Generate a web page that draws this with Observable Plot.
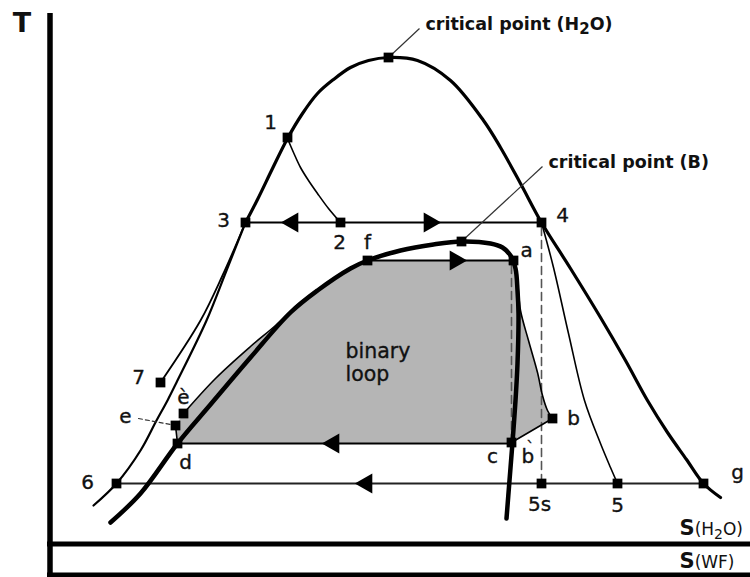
<!DOCTYPE html>
<html>
<head>
<meta charset="utf-8">
<script src="https://cdn.jsdelivr.net/npm/d3@7"></script>
<script src="https://cdn.jsdelivr.net/npm/@observablehq/plot@0.6"></script>
<style>
  html, body { margin: 0; padding: 0; background: #fff; }
  svg { display: block; }
</style>
</head>
<body>
<script>
// Temperature–entropy schematic of a binary geothermal cycle.
// All coordinates are in diagram units: s (entropy) 0–750, T (temperature) 0–577.

// Water saturation dome: from point 3 over the critical point down the vapour side to g
const waterDome = [[245,355],[257,378],[272,409],[287,439],[302,464],[317,484],[333,498],[350,510],[368,517],[388,520],[417,517],[450,497],[483,457],[500,430],[520,394],[541,355],[570,309],[600,260],[625,217],[647,177],[667,145],[686,118],[703,94],[720,80]];
// Saturated-liquid branch of water below point 3 (through point 6)
const waterLiquid = [[245,355],[226,307],[206,257],[176,195],[167,177],[156,157],[140,127],[116,94],[93,72]];
// Working-fluid (B) saturation dome
const wfDome = [[110,55],[140,84],[177,134],[210,173],[250,220],[290,265],[317,287],[350,309],[367,317],[400,327],[433,333],[461,336],[490,334],[502,330],[510,322],[515,309],[517,287],[518,264],[517,214],[515,177],[512,135],[509,97],[506,59]];

// Process lines
const line37 = [[245,355],[222,302],[200,257],[160,195]];
const flash12 = [[287,439],[293,425],[300,410],[308,397],[317,384],[328,369],[340,355]];
const expansion45 = [[541,355],[553,310],[568,244],[584,177],[600,134],[610,110],[617,94]];
const turbineAB = [[513,317],[517,295],[520,267],[528,237],[537,205],[542,182],[547,167],[552,159]];
const lineBC = [[552,159],[511,135]];
const preheatEF = [[183,164],[215,199],[250,231],[275,252],[295,271],[320,290]];
const lineED = [[175,152],[177,134]];
const evaporation34 = [[245,355],[541,355]];
const vaporizeFA = [[367,317],[513,317]];
const condenseCD = [[511,134],[177,134]];
const condense6G = [[703,94],[116,94]];

// Ideal (isentropic) expansions
const isentropicAB = [[511,312],[511,137]];
const isentropic45s = [[541,350],[541,94]];

// Flow-direction arrows
const arrowsLeft = [[292,355],[333,134],[366,94]];
const arrowsRight = [[429,355],[455,317]];

// State points
const states = [
  {id: "1", s: 287, T: 440}, {id: "2", s: 340, T: 355}, {id: "3", s: 245, T: 355},
  {id: "4", s: 541, T: 355}, {id: "f", s: 367, T: 317}, {id: "a", s: 513, T: 317},
  {id: "b", s: 552, T: 159}, {id: "c", s: 511, T: 135}, {id: "d", s: 177, T: 134},
  {id: "e", s: 175, T: 152}, {id: "è", s: 183, T: 164}, {id: "7", s: 160, T: 195},
  {id: "6", s: 116, T: 94}, {id: "5s", s: 541, T: 94}, {id: "5", s: 617, T: 94},
  {id: "g", s: 703, T: 94}
];
// Ideal turbine exit of the binary loop (no marker), written b with a grave accent
const bPrime = {id: "b`", s: 511, T: 137};

const criticalPoints = [
  {name: "critical point (H2O)", s: 388, T: 520, labelS: 425, labelT: 553},
  {name: "critical point (B)", s: 461, T: 336, labelS: 548, labelT: 415}
];

const axisNames = [
  {text: "S(H2O)", s: 679, T: 48},
  {text: "S(WF)", s: 679, T: 15}
];

const regionLabel = {text: "binary\nloop", s: 345, T: 215};

// ---- rendering ----

// Shaded binary-loop area: d → e → è → preheat line → WF dome to f → a → turbine line to b → c
const iF = wfDome.findIndex(p => p[0] === 367);
const iMerge = wfDome.findIndex(p => p[0] === 350);
const loopArea = [
  [177, 134],
  ...lineED.slice(0, 1),
  ...preheatEF,
  ...wfDome.slice(iMerge, iF + 1),
  ...turbineAB,
  ...lineBC,
  [177, 134]
];

// Label offsets in pixels (right, down)
const offsets = {
  "1": [-17, -15], "2": [-1, 20], "3": [-22, -2], "4": [21, -7], "f": [0, -18],
  "a": [13, -10], "b": [21, 0], "b`": [10, 16], "c": [-19, 14], "d": [8, 19],
  "e": [-50, -9], "è": [0, -16], "7": [-22, -5], "6": [-29, -1], "5s": [-2, 21],
  "5": [0, 22], "g": [34, -11]
};

const font = "DejaVu Sans, Verdana, sans-serif";
const labelStyle = {fontSize: 20, fontFamily: font, fill: "#111", stroke: "#111", strokeWidth: 0.35};

const svg = Plot.plot({
  width: 750,
  height: 577,
  margin: 0,
  x: {domain: [0, 750], axis: null},
  y: {domain: [0, 577], axis: null},
  style: {background: "#fff", color: "#000"},
  marks: [
    Plot.line(loopArea, {fill: "#b5b5b5", stroke: "none"}),

    Plot.line(isentropicAB, {stroke: "#555", strokeWidth: 1.6, strokeDasharray: "8,5"}),
    Plot.line(isentropic45s, {stroke: "#555", strokeWidth: 1.6, strokeDasharray: "8,5"}),

    Plot.line(waterLiquid, {stroke: "#000", strokeWidth: 2.2, curve: "catmull-rom"}),
    Plot.line(line37, {stroke: "#000", strokeWidth: 1.8, curve: "catmull-rom"}),
    Plot.line(flash12, {stroke: "#000", strokeWidth: 1.6, curve: "catmull-rom"}),
    Plot.line(expansion45, {stroke: "#000", strokeWidth: 1.6, curve: "catmull-rom"}),
    Plot.line(turbineAB, {stroke: "#000", strokeWidth: 1.6, curve: "catmull-rom"}),
    Plot.line(lineBC, {stroke: "#000", strokeWidth: 1.6}),
    Plot.line(preheatEF, {stroke: "#000", strokeWidth: 1.6, curve: "catmull-rom"}),
    Plot.line(lineED, {stroke: "#000", strokeWidth: 1.6}),
    Plot.line(evaporation34, {stroke: "#000", strokeWidth: 2}),
    Plot.line(vaporizeFA, {stroke: "#000", strokeWidth: 2}),
    Plot.line(condenseCD, {stroke: "#000", strokeWidth: 2}),
    Plot.line(condense6G, {stroke: "#222", strokeWidth: 1.8}),

    Plot.line(waterDome, {stroke: "#000", strokeWidth: 3.2, curve: "catmull-rom"}),
    Plot.line(wfDome, {stroke: "#000", strokeWidth: 4.5, curve: "catmull-rom"}),

    // leaders
    Plot.link(criticalPoints, {x1: "s", y1: "T", x2: d => d.labelS - 6, y2: d => d.labelT - 4, stroke: "#333", strokeWidth: 1.2}),
    Plot.line([[138, 159], [170, 153]], {stroke: "#333", strokeWidth: 1.2, strokeDasharray: "4,3"}),

    // arrows
    Plot.dot(arrowsLeft, {symbol: "triangle", r: 7.5, fill: "#000", stroke: "none", rotate: -90}),
    Plot.dot(arrowsRight, {symbol: "triangle", r: 7.5, fill: "#000", stroke: "none", rotate: 90}),

    // state markers
    Plot.dot([...states, ...criticalPoints], {x: "s", y: "T", symbol: "square", r: 5.5, fill: "#000", stroke: "none"}),

    // state labels
    Plot.text([...states, bPrime], {
      x: d => d.s + offsets[d.id][0],
      y: d => d.T - offsets[d.id][1],
      text: "id", ...labelStyle
    }),

    Plot.text(criticalPoints, {
      x: "labelS", y: "labelT", text: "name", textAnchor: "start",
      fontSize: 17.5, fontWeight: "bold", fontFamily: font, fill: "#111"
    }),
    Plot.text([regionLabel], {
      x: "s", y: "T", text: "text", textAnchor: "start", lineHeight: 1.1,
      ...labelStyle, fontSize: 20.5
    }),
    Plot.text(["T"], {
      x: () => 21.5, y: () => 554, text: d => d,
      fontSize: 27, fontWeight: "bold", fontFamily: font, fill: "#111"
    }),
    Plot.text(axisNames, {
      x: "s", y: "T", text: "text", textAnchor: "start",
      fontSize: 17, fontWeight: "bold", fontFamily: font, fill: "#111"
    }),

    // frame: temperature axis and the two entropy baselines
    Plot.ruleX([49.5], {y1: 0, y2: 564, strokeWidth: 5.5, stroke: "#000"}),
    Plot.ruleY([33.5, 2.5], {x1: 47, x2: 750, strokeWidth: 5, stroke: "#000"})
  ]
});

// subscripts, accents and mixed weights in the text labels
for (const t of svg.querySelectorAll("text")) {
  const s = t.textContent;
  if (s === "critical point (H2O)") {
    t.innerHTML = 'critical point (H<tspan dy="4" font-size="15">2</tspan><tspan dy="-4">O)</tspan>';
  } else if (s === "S(H2O)") {
    t.innerHTML = '<tspan font-size="21">S</tspan><tspan font-weight="normal">(H</tspan><tspan font-weight="normal" dy="4" font-size="14">2</tspan><tspan font-weight="normal" dy="-4">O)</tspan>';
  } else if (s === "S(WF)") {
    t.innerHTML = '<tspan font-size="21">S</tspan><tspan font-weight="normal">(WF)</tspan>';
  } else if (s === "b`") {
    t.setAttribute("text-anchor", "start");
    t.innerHTML = 'b<tspan dx="-8" dy="-10" font-size="16">`</tspan>';
  }
}

document.body.appendChild(svg);
</script>
</body>
</html>
